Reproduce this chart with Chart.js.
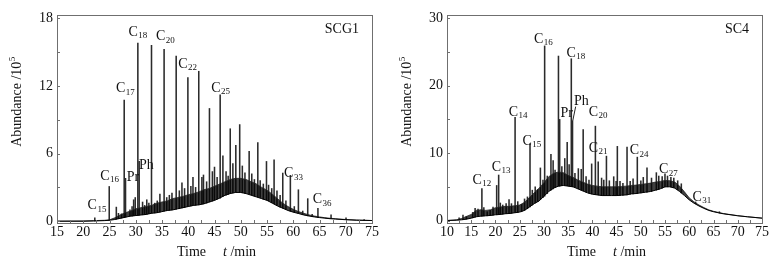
<!DOCTYPE html>
<html>
<head>
<meta charset="utf-8">
<script src="https://cdn.jsdelivr.net/npm/chart.js@4.4.0/dist/chart.umd.min.js"></script>
<style>
  html, body { margin: 0; padding: 0; background: #fff; }
  #wrap { position: relative; width: 782px; height: 263px; }
  .panel { position: absolute; top: 0; width: 391px; height: 263px; }
</style>
</head>
<body>
<div id="wrap">
  <div class="panel" style="left:0"><canvas id="scg" width="391" height="263"></canvas></div>
  <div class="panel" style="left:390px"><canvas id="sc4" width="391" height="263"></canvas></div>
</div>
<script>
// ---- SCG1 (left) ----
// unresolved hump + noise band: time (min), lower and upper edge (10^5)
const scgBandTime = [15, 20, 22, 24, 25, 26, 27, 28, 29, 30, 31, 32, 33, 34, 35, 36, 37, 38, 39, 40, 41, 42, 43, 44, 45,
  46, 47, 48, 49, 50, 51, 52, 53, 54, 55, 56, 57, 58, 59, 60, 61, 62, 63, 64, 65, 66, 67, 68, 70, 72, 75];
const scgBandLow = [0, 0, 0.02, 0.05, 0.08, 0.15, 0.25, 0.35, 0.45, 0.5, 0.55, 0.6, 0.7, 0.75, 0.85, 0.95, 1.0, 1.1, 1.2, 1.3, 1.4, 1.45, 1.55, 1.7, 1.85,
  2.05, 2.3, 2.45, 2.55, 2.55, 2.45, 2.3, 2.15, 2.0, 1.85, 1.6, 1.35, 1.15, 0.95, 0.8, 0.68, 0.55, 0.46, 0.38, 0.32, 0.27, 0.22, 0.19, 0.13, 0.09, 0.06];
const scgBandHigh = [0, 0.02, 0.05, 0.08, 0.12, 0.3, 0.55, 0.75, 0.9, 1.1, 1.2, 1.3, 1.4, 1.6, 1.7, 1.8, 2.0, 2.1, 2.2, 2.35, 2.45, 2.6, 2.8, 2.9, 3.1,
  3.3, 3.5, 3.7, 3.8, 3.8, 3.7, 3.5, 3.3, 3.0, 2.75, 2.4, 2.0, 1.6, 1.3, 1.05, 0.85, 0.7, 0.56, 0.46, 0.38, 0.31, 0.26, 0.22, 0.15, 0.1, 0.06];

// peaks: retention time, apex, foot
const scgPeakTime = [22.2, 24.95, 26.3, 26.7, 27.3, 27.8, 28.05, 28.9, 29.3, 29.6, 29.9, 30.4, 30.65, 31.3, 31.7, 32.1, 32.5, 33.0, 33.6, 34.1,
  34.6, 35.4, 35.9, 36.4, 36.9, 37.7, 38.3, 38.8, 39.3, 39.93, 40.5, 40.9, 41.4, 42.0, 42.6, 42.9, 43.5, 44.04, 44.6, 45.0,
  45.5, 46.08, 46.6, 47.2, 47.6, 48.0, 48.5, 49.06, 49.8, 50.3, 50.8, 51.6, 52.1, 52.6, 53.25, 53.7, 54.3, 54.9, 55.3, 55.9,
  56.35, 56.9, 57.5, 58.0, 58.6, 59.45, 60.2, 60.98, 61.8, 62.76, 63.6, 64.7, 67.2, 70.05, 73.5];
const scgPeakTop = [0.3, 3.08, 1.25, 0.7, 0.65, 10.74, 3.8, 1.0, 1.3, 1.9, 2.1, 15.8, 5.3, 1.7, 1.4, 1.9, 1.6, 15.6, 1.6, 1.8,
  2.4, 15.25, 2.1, 2.3, 2.5, 14.65, 2.7, 3.4, 2.9, 12.75, 3.1, 3.9, 3.0, 13.3, 3.9, 4.1, 3.5, 10.0, 4.4, 4.8,
  3.9, 11.2, 5.8, 4.4, 4.0, 8.2, 5.1, 6.73, 8.57, 4.9, 4.3, 6.2, 4.2, 3.7, 6.97, 3.6, 3.3, 5.3, 3.2, 2.9,
  5.45, 2.7, 2.3, 4.27, 1.8, 4.07, 1.3, 2.79, 0.9, 2.0, 0.6, 1.15, 0.57, 0.3, 0.15];
const scgPeakBase = [0.02, 0.08, 0.18, 0.22, 0.28, 0.32, 0.35, 0.42, 0.45, 0.48, 0.5, 0.52, 0.53, 0.57, 0.6, 0.62, 0.66, 0.7, 0.73, 0.76,
  0.8, 0.88, 0.93, 0.97, 1.0, 1.07, 1.12, 1.17, 1.22, 1.3, 1.35, 1.4, 1.42, 1.45, 1.5, 1.53, 1.6, 1.7, 1.78, 1.85,
  1.95, 2.05, 2.2, 2.3, 2.38, 2.45, 2.5, 2.55, 2.55, 2.52, 2.47, 2.4, 2.3, 2.25, 2.15, 2.1, 1.95, 1.87, 1.8, 1.65,
  1.55, 1.4, 1.25, 1.15, 1.05, 0.9, 0.78, 0.68, 0.58, 0.48, 0.42, 0.34, 0.22, 0.13, 0.07];

const scgLabelText = ['C15', 'C16', 'C17', 'Pr', 'C18', 'Ph', 'C20', 'C22', 'C25', 'C33', 'C36'];
const scgLabelTime = [20.82, 23.24, 26.23, 28.3, 28.62, 30.6, 33.84, 38.08, 44.36, 58.25, 63.72];
const scgLabelValue = [1.07, 3.67, 11.45, 3.53, 16.43, 4.6, 16.03, 13.59, 11.49, 3.89, 1.57];

const scgXTicks = [15, 20, 25, 30, 35, 40, 45, 50, 55, 60, 65, 70, 75];
const scgYTicks = [0, 6, 12, 18];

// ---- SC4 (right) ----
const sc4BandTime = [10, 12, 13, 14, 15, 16, 17, 18, 19, 20, 21, 22, 23, 24, 25, 26, 27, 28, 29, 30, 31, 32, 33, 34, 35, 36, 37, 38, 39, 40,
  41, 42, 43, 44, 45, 46, 47, 48, 49, 50, 51, 52, 53, 54, 55, 56, 57, 58, 59, 60, 61, 62, 63, 64, 65, 66, 67, 68, 70, 72, 75];
const sc4BandLow = [0, 0.05, 0.1, 0.2, 0.35, 0.55, 0.65, 0.7, 0.75, 0.85, 0.9, 1.0, 1.05, 1.15, 1.25, 1.5, 2.0, 2.5, 2.9, 3.6, 4.3, 4.8, 5.1, 5.2, 5.1, 5.0, 4.7, 4.4, 4.1, 3.9,
  3.8, 3.7, 3.7, 3.7, 3.7, 3.75, 3.8, 3.95, 4.0, 4.1, 4.2, 4.3, 4.5, 4.7, 5.0, 5.0, 4.8, 4.3, 3.7, 3.05, 2.55, 2.15, 1.8, 1.5, 1.3, 1.15, 1.0, 0.9, 0.7, 0.55, 0.35];
const sc4BandHigh = [0, 0.1, 0.3, 0.6, 0.9, 1.5, 1.6, 1.5, 1.6, 1.9, 2.0, 2.1, 2.1, 2.2, 2.3, 2.7, 3.4, 4.1, 4.8, 5.6, 6.5, 7.0, 7.2, 7.1, 6.7, 6.4, 6.0, 5.7, 5.4, 5.2,
  5.1, 5.0, 5.0, 5.0, 5.0, 5.05, 5.1, 5.2, 5.25, 5.35, 5.45, 5.55, 5.7, 5.8, 5.95, 5.9, 5.7, 5.1, 4.25, 3.35, 2.75, 2.3, 1.92, 1.58, 1.36, 1.2, 1.04, 0.93, 0.72, 0.56, 0.35];

const sc4PeakTime = [12.5, 13.3, 14.0, 15.3, 15.8, 16.4, 17.2, 17.6, 18.3, 18.9, 19.5, 20.25, 20.66, 21.0, 21.5, 22.2, 22.8, 23.3, 24.05, 24.6,
  25.4, 26.0, 26.6, 27.13, 27.6, 28.2, 28.7, 29.27, 29.8, 30.15, 30.7, 31.45, 31.9, 32.3, 33.0, 33.25, 33.7, 34.3, 34.8, 35.2,
  35.65, 35.9, 36.4, 37.1, 37.7, 38.1, 38.7, 39.3, 39.85, 40.62, 41.2, 41.9, 42.35, 42.9, 43.5, 44.4, 44.9, 45.15, 45.7, 46.3,
  47.15, 47.8, 48.4, 49.27, 50.0, 50.5, 51.27, 52.2, 53.2, 53.7, 54.4, 54.98, 55.5, 56.2, 56.8, 57.6, 58.35, 61.3, 66.2];
const sc4PeakTop = [0.4, 0.8, 0.6, 1.2, 1.8, 1.7, 4.75, 1.9, 1.3, 1.5, 2.0, 5.2, 6.75, 2.6, 2.3, 2.5, 3.1, 2.5, 15.3, 2.8,
  2.4, 3.2, 3.5, 11.4, 4.5, 5.0, 4.6, 7.8, 6.0, 25.9, 6.6, 9.8, 8.9, 7.5, 24.4, 15.0, 8.0, 9.2, 11.6, 8.3,
  24.0, 14.8, 7.0, 7.7, 7.6, 13.5, 6.5, 6.0, 8.4, 14.0, 8.7, 6.3, 6.0, 9.55, 5.9, 6.5, 5.8, 11.0, 5.8, 5.5,
  10.9, 5.8, 6.2, 9.4, 5.9, 6.4, 7.8, 6.3, 7.1, 6.6, 6.5, 6.94, 6.6, 6.4, 6.3, 5.9, 5.45, 2.75, 1.3];
const sc4PeakBase = [0.07, 0.12, 0.2, 0.4, 0.5, 0.6, 0.65, 0.67, 0.7, 0.73, 0.8, 0.85, 0.87, 0.9, 0.95, 1.0, 1.03, 1.08, 1.15, 1.2,
  1.3, 1.5, 1.75, 2.0, 2.3, 2.6, 2.8, 3.1, 3.4, 3.6, 4.0, 4.5, 4.7, 4.9, 5.1, 5.1, 5.15, 5.2, 5.15, 5.1,
  5.05, 5.0, 4.9, 4.7, 4.5, 4.4, 4.2, 4.05, 3.95, 3.85, 3.8, 3.72, 3.7, 3.7, 3.7, 3.7, 3.7, 3.7, 3.72, 3.75,
  3.8, 3.9, 3.95, 4.0, 4.1, 4.15, 4.2, 4.3, 4.5, 4.6, 4.8, 5.0, 5.0, 5.0, 4.9, 4.6, 4.1, 2.5, 1.1];

const sc4LabelText = ['C12', 'C13', 'C14', 'C15', 'C16', 'Pr', 'C18', 'Ph', 'C20', 'C21', 'C24', 'C27', 'C31'];
const sc4LabelTime = [15.24, 19.22, 22.73, 25.56, 27.95, 33.4, 34.64, 36.21, 39.24, 39.24, 47.7, 53.75, 60.64];
const sc4LabelValue = [5.46, 7.37, 15.55, 11.24, 26.34, 15.33, 24.33, 17.11, 15.55, 10.19, 9.82, 6.99, 2.9];
// leader line from the Ph peak to its label
const sc4Leader = [[35.95, 14.8], [36.55, 16.9]];

const sc4XTicks = [10, 15, 20, 25, 30, 35, 40, 45, 50, 55, 60, 65, 70, 75];
const sc4YTicks = [0, 10, 20, 30];

const SERIF = '"Liberation Serif", "DejaVu Serif", serif';

function chromPlugin(cfg) {
  return {
    id: 'chrom',
    afterDatasetsDraw(chart) {
      const ctx = chart.ctx;
      const a = chart.chartArea;
      const x = chart.scales.x, y = chart.scales.y;
      ctx.save();

      // frame
      ctx.strokeStyle = '#6f6f6f';
      ctx.lineWidth = 1;
      ctx.strokeRect(Math.round(a.left) + 0.5, Math.round(a.top) + 0.5,
        Math.round(a.right - a.left), Math.round(a.bottom - a.top));

      // inward ticks (major + half-step minor)
      ctx.beginPath();
      const xs = cfg.xTicks[1] - cfg.xTicks[0];
      for (let v = cfg.xTicks[0]; v <= cfg.xTicks[cfg.xTicks.length - 1]; v += xs / 2) {
        const px = Math.round(x.getPixelForValue(v)) + 0.5;
        ctx.moveTo(px, a.bottom);
        ctx.lineTo(px, a.bottom - 3);
      }
      const ys = cfg.yTicks[1] - cfg.yTicks[0];
      for (let v = cfg.yTicks[0]; v <= cfg.yTicks[cfg.yTicks.length - 1]; v += ys / 2) {
        const py = Math.round(y.getPixelForValue(v)) + 0.5;
        ctx.moveTo(a.left, py);
        ctx.lineTo(a.left + 3, py);
      }
      ctx.stroke();

      // peak labels
      ctx.fillStyle = '#111';
      ctx.textAlign = 'left';
      ctx.textBaseline = 'alphabetic';
      cfg.labelText.forEach((txt, i) => {
        const px = x.getPixelForValue(cfg.labelTime[i]);
        const py = y.getPixelForValue(cfg.labelValue[i]);
        const m = /^C(\d+)$/.exec(txt);
        ctx.font = '14px ' + SERIF;
        if (m) {
          ctx.fillText('C', px, py);
          const w = ctx.measureText('C').width;
          ctx.font = '9px ' + SERIF;
          ctx.fillText(m[1], px + w + 0.5, py + 2.5);
        } else {
          ctx.fillText(txt, px, py);
        }
      });

      if (cfg.leader) {
        ctx.strokeStyle = '#222';
        ctx.beginPath();
        ctx.moveTo(x.getPixelForValue(cfg.leader[0][0]), y.getPixelForValue(cfg.leader[0][1]));
        ctx.lineTo(x.getPixelForValue(cfg.leader[1][0]), y.getPixelForValue(cfg.leader[1][1]));
        ctx.stroke();
      }

      // sample name
      ctx.font = '14px ' + SERIF;
      ctx.textAlign = 'right';
      ctx.fillText(cfg.name, a.right - 13, a.top + 18);

      // y title: Abundance /10^5
      ctx.save();
      ctx.translate(a.left - 40, a.top + 87);
      ctx.rotate(-Math.PI / 2);
      ctx.font = '14px ' + SERIF;
      const t1 = 'Abundance /10';
      const w1 = ctx.measureText(t1).width;
      ctx.font = '9px ' + SERIF;
      const w2 = ctx.measureText('5').width;
      const start = -(w1 + w2) / 2;
      ctx.textAlign = 'left';
      ctx.textBaseline = 'middle';
      ctx.font = '14px ' + SERIF;
      ctx.fillText(t1, start, 0);
      ctx.font = '9px ' + SERIF;
      ctx.fillText('5', start + w1 + 0.5, -4);
      ctx.restore();

      // x title: Time   t /min
      const cx = (a.left + a.right) / 2 + 2;
      const by = a.bottom + 33;
      ctx.textAlign = 'left';
      ctx.font = '14px ' + SERIF;
      const wTime = ctx.measureText('Time').width;
      const wMin = ctx.measureText(' /min').width;
      ctx.font = 'italic 14px ' + SERIF;
      const wT = ctx.measureText('t').width;
      const gap = 17;
      let sx = cx - (wTime + gap + wT + wMin) / 2;
      ctx.font = '14px ' + SERIF;
      ctx.fillText('Time', sx, by);
      sx += wTime + gap;
      ctx.font = 'italic 14px ' + SERIF;
      ctx.fillText('t', sx, by);
      sx += wT;
      ctx.font = '14px ' + SERIF;
      ctx.fillText(' /min', sx, by);

      ctx.restore();
    }
  };
}

function drawPanel(id, cfg) {
  const ctx = document.getElementById(id).getContext('2d');
  const tickFont = { family: SERIF, size: 14 };

  new Chart(ctx, {
    type: 'bar',
    data: {
      datasets: [
        {
          type: 'line',
          data: cfg.bandTime.map((t, i) => ({ x: t, y: cfg.bandLow[i] })),
          borderColor: '#000',
          borderWidth: 1,
          pointRadius: 0,
          tension: 0,
          fill: false
        },
        {
          type: 'line',
          data: cfg.bandTime.map((t, i) => ({ x: t, y: cfg.bandHigh[i] })),
          borderColor: '#222',
          borderWidth: 0.8,
          pointRadius: 0,
          tension: 0,
          fill: '-1',
          backgroundColor: 'rgba(0,0,0,0.75)'
        },
        {
          type: 'bar',
          data: cfg.peakTime.map((t, i) => ({ x: t, y: [cfg.peakBase[i], cfg.peakTop[i]] })),
          backgroundColor: '#2b2b2b',
          borderWidth: 0,
          barThickness: 0.9,
          grouped: false
        }
      ]
    },
    options: {
      responsive: false,
      animation: false,
      events: [],
      layout: { padding: { left: 17, right: 19, top: 15, bottom: 0 } },
      plugins: {
        legend: { display: false },
        tooltip: { enabled: false }
      },
      scales: {
        x: {
          type: 'linear',
          min: cfg.xTicks[0],
          max: cfg.xTicks[cfg.xTicks.length - 1],
          offset: false,
          grid: { display: false, drawTicks: false },
          border: { display: false },
          ticks: { font: tickFont, color: '#111', padding: 1, maxRotation: 0, autoSkip: false },
          afterBuildTicks: s => { s.ticks = cfg.xTicks.map(v => ({ value: v })); },
          afterFit: s => { s.height = 40; }
        },
        y: {
          min: cfg.yMin,
          max: cfg.yMax,
          grid: { display: false, drawTicks: false },
          border: { display: false },
          ticks: { font: tickFont, color: '#111', padding: 4 },
          afterBuildTicks: s => { s.ticks = cfg.yTicks.map(v => ({ value: v })); },
          afterFit: s => { s.width = 40; }
        }
      }
    },
    plugins: [chromPlugin(cfg)]
  });
}

drawPanel('scg', {
  name: 'SCG1',
  bandTime: scgBandTime, bandLow: scgBandLow, bandHigh: scgBandHigh,
  peakTime: scgPeakTime, peakTop: scgPeakTop, peakBase: scgPeakBase,
  labelText: scgLabelText, labelTime: scgLabelTime, labelValue: scgLabelValue,
  xTicks: scgXTicks, yTicks: scgYTicks, yMin: -0.16, yMax: 18.29
});

drawPanel('sc4', {
  name: 'SC4',
  bandTime: sc4BandTime, bandLow: sc4BandLow, bandHigh: sc4BandHigh,
  peakTime: sc4PeakTime, peakTop: sc4PeakTop, peakBase: sc4PeakBase,
  labelText: sc4LabelText, labelTime: sc4LabelTime, labelValue: sc4LabelValue,
  leader: sc4Leader,
  xTicks: sc4XTicks, yTicks: sc4YTicks, yMin: -0.37, yMax: 30.49
});
</script>
</body>
</html>
